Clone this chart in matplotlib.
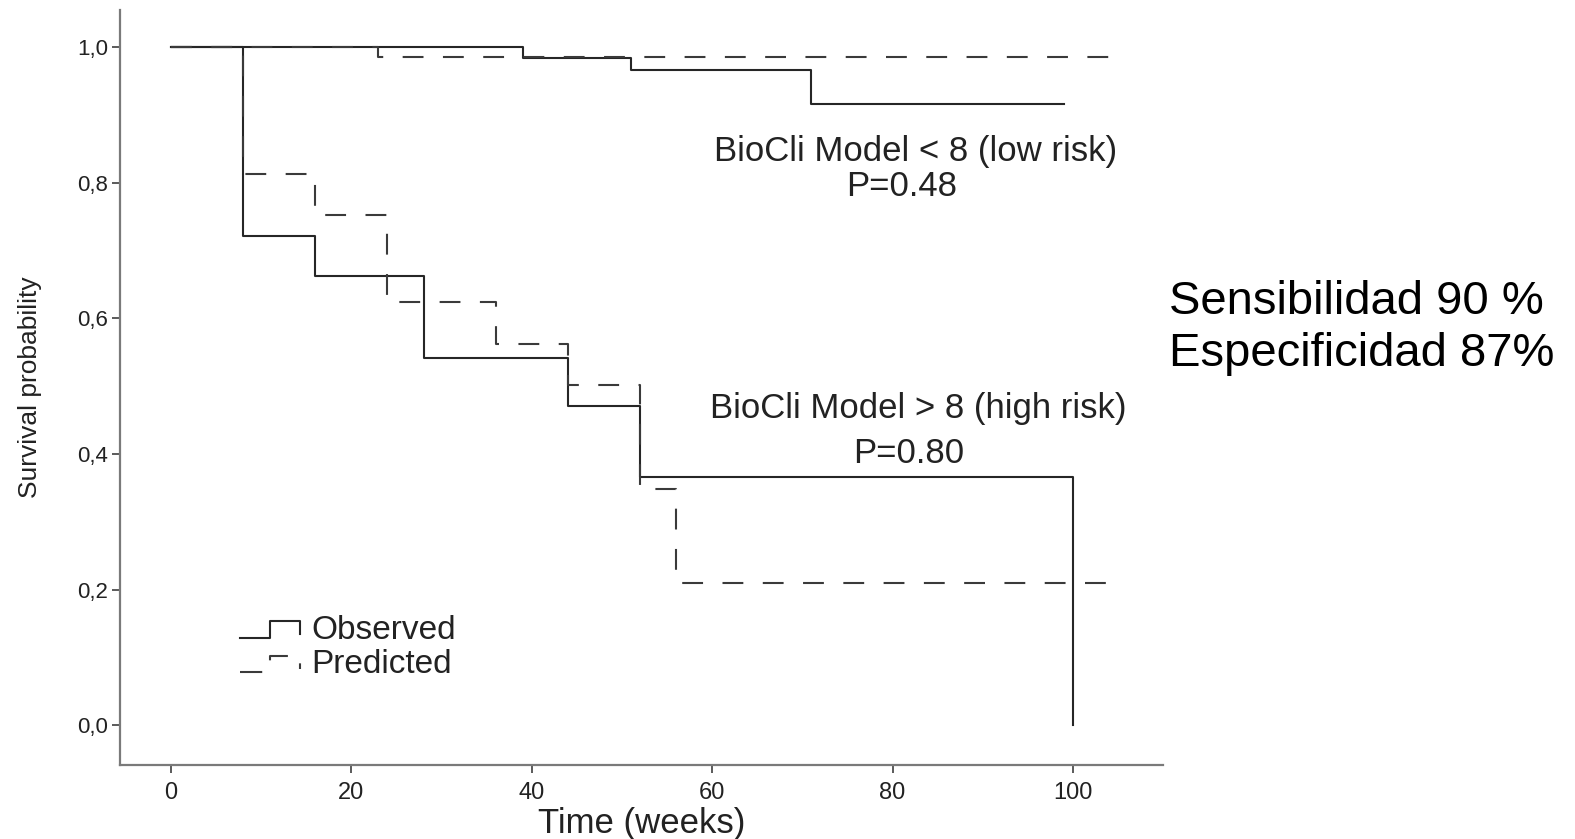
import matplotlib
matplotlib.use("Agg")
import matplotlib.pyplot as plt
from matplotlib.lines import Line2D
from matplotlib.legend_handler import HandlerBase
from matplotlib.ticker import FuncFormatter

plt.rcParams['font.family'] = ['Liberation Sans', 'DejaVu Sans']
plt.rcParams['lines.scale_dashes'] = False

# ---- data ----
low_obs_t = [0, 39, 51, 71, 99]
low_obs_s = [1.0, 0.984, 0.966, 0.917, 0.917]
low_pred_t = [0, 23, 104]
low_pred_s = [1.0, 0.986, 0.986]
high_obs_t = [0, 8, 16, 28, 44, 52, 100]
high_obs_s = [1.0, 0.722, 0.662, 0.542, 0.471, 0.366, 0.0]
high_pred_t = [0, 8, 16, 24, 36, 44, 52, 56, 104]
high_pred_s = [1.0, 0.813, 0.753, 0.625, 0.563, 0.502, 0.348, 0.21, 0.21]
x_ticks = [0, 20, 40, 60, 80, 100]
y_ticks = [0.0, 0.2, 0.4, 0.6, 0.8, 1.0]
series_labels = ["Observed", "Predicted"]
group_labels = ["BioCli Model < 8 (low risk)", "BioCli Model > 8 (high risk)"]
p_labels = ["P=0.48", "P=0.80"]
side_text = ["Sensibilidad 90 %", "Especificidad 87%"]

OBS_C = "#262626"
PRED_C = "#3a3a3a"
TXT_C = "#222222"
DASH = (15, 14)

fig = plt.figure(figsize=(15.75, 8.39), dpi=100)
ax = fig.add_axes([0.0765, 0.088, 0.662, 0.900])

ax.plot(low_obs_t, low_obs_s, drawstyle='steps-post', color=OBS_C, lw=1.5)
ax.plot(low_pred_t, low_pred_s, drawstyle='steps-post', color=PRED_C, lw=1.5, dashes=DASH)
ax.plot(high_obs_t, high_obs_s, drawstyle='steps-post', color=OBS_C, lw=1.5)
ax.plot(high_pred_t, high_pred_s, drawstyle='steps-post', color=PRED_C, lw=1.5, dashes=DASH)

ax.set_xlim(-5.6, 110)
ax.set_ylim(-0.059, 1.055)
ax.set_xticks(x_ticks)
ax.set_yticks(y_ticks)
ax.yaxis.set_major_formatter(FuncFormatter(lambda v, p: f"{v:.1f}".replace('.', ',')))

for s in ['top', 'right']:
    ax.spines[s].set_visible(False)
for s in ['left', 'bottom']:
    ax.spines[s].set_color('#7a7a7a')
    ax.spines[s].set_linewidth(1.6)
ax.tick_params(axis='both', colors='#5a5a5a', length=6, width=1.4, labelcolor=TXT_C)
ax.tick_params(axis='x', labelsize=17, pad=6)
ax.tick_params(axis='y', labelsize=16, pad=3)

ax.set_xlabel("Time (weeks)", fontsize=25, color=TXT_C, labelpad=2)
ax.set_ylabel("Survival probability", fontsize=19, color=TXT_C, labelpad=25)

# annotations
ax.text(82.5, 0.846, group_labels[0], ha='center', va='center', fontsize=25, color=TXT_C)
ax.text(81.0, 0.795, p_labels[0], ha='center', va='center', fontsize=25, color=TXT_C)
ax.text(82.8, 0.467, group_labels[1], ha='center', va='center', fontsize=25, color=TXT_C)
ax.text(81.8, 0.401, p_labels[1], ha='center', va='center', fontsize=25, color=TXT_C)


class StepHandler(HandlerBase):
    def __init__(self, dashed):
        super().__init__()
        self.dashed = dashed

    def create_artists(self, legend, orig_handle, xdescent, ydescent, width, height, fontsize, trans):
        x0, y0 = -xdescent, -ydescent
        lo, hi = y0 + 0.05 * height, y0 + 0.75 * height
        xs = [x0, x0 + 0.5 * width, x0 + 0.5 * width, x0 + width, x0 + width]
        ys = [lo, lo, hi, hi, lo + 0.15 * height]
        ln = Line2D(xs, ys, color=orig_handle.get_color(), lw=1.5, transform=trans)
        if self.dashed:
            ln.set_dashes((16, 14))
        return [ln]


h_obs = Line2D([], [], color=OBS_C)
h_pred = Line2D([], [], color=PRED_C)
ax.legend([h_obs, h_pred], series_labels,
          handler_map={h_obs: StepHandler(False), h_pred: StepHandler(True)},
          loc='upper left', bbox_to_anchor=(0.1145, 0.199), frameon=False,
          fontsize=24, handlelength=1.8, handletextpad=0.35, labelspacing=0.1,
          borderpad=0, borderaxespad=0, labelcolor=TXT_C)

fig.text(0.742, 0.640, side_text[0], fontsize=34, color='black', ha='left', va='center')
fig.text(0.742, 0.578, side_text[1], fontsize=34, color='black', ha='left', va='center')

fig.savefig("out.png", dpi=100)
